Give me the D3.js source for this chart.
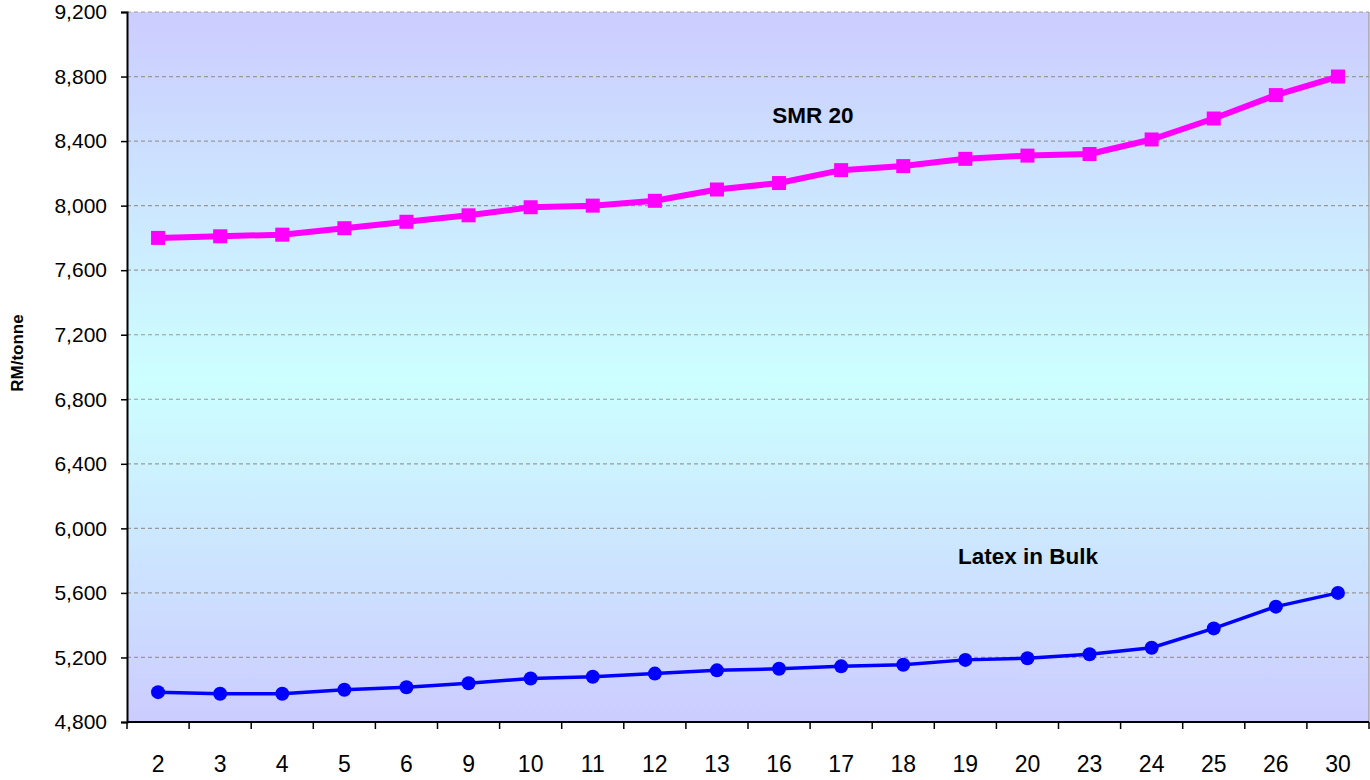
<!DOCTYPE html>
<html>
<head>
<meta charset="utf-8">
<script src="https://cdn.jsdelivr.net/npm/d3@7"></script>
<style>
  html, body { margin: 0; padding: 0; background: #ffffff; }
  svg { display: block; font-family: "Liberation Sans", Arial, sans-serif; }
</style>
</head>
<body>
<svg id="chart" width="1370" height="780"></svg>
<script>
// Daily prices (RM/tonne) by day of month
const days = ["2", "3", "4", "5", "6", "9", "10", "11", "12", "13", "16", "17", "18", "19", "20", "23", "24", "25", "26", "30"];
const smr20 = [7800, 7810, 7820, 7860, 7900, 7940, 7990, 8000, 8030, 8100, 8140, 8220, 8245, 8290, 8310, 8320, 8410, 8540, 8685, 8800];
const latexBulk = [4985, 4975, 4975, 5000, 5015, 5040, 5070, 5080, 5100, 5120, 5130, 5145, 5155, 5185, 5195, 5220, 5260, 5380, 5515, 5600];
const yTicks = [4800, 5200, 5600, 6000, 6400, 6800, 7200, 7600, 8000, 8400, 8800, 9200];

const svg = d3.select("#chart");
const margin = { left: 127, top: 12, right: 1, bottom: 58 };
const W = 1370, H = 780;
const innerW = W - margin.left - margin.right;
const innerH = H - margin.top - margin.bottom;

const x = d3.scaleBand().domain(days).range([0, innerW]).padding(0);
const y = d3.scaleLinear().domain([4800, 9200]).range([innerH, 0]);

// Background gradient
const defs = svg.append("defs");
const grad = defs.append("linearGradient")
  .attr("id", "bg").attr("x1", 0).attr("y1", 0).attr("x2", 0).attr("y2", 1);
grad.append("stop").attr("offset", "0%").attr("stop-color", "#ccccff");
grad.append("stop").attr("offset", "52%").attr("stop-color", "#ccffff");
grad.append("stop").attr("offset", "100%").attr("stop-color", "#ccccff");

const g = svg.append("g").attr("transform", `translate(${margin.left},${margin.top})`);

g.append("rect")
  .attr("width", innerW).attr("height", innerH)
  .attr("fill", "url(#bg)");

// Gridlines
g.append("g").selectAll("line")
  .data(yTicks.filter(d => d !== 4800))
  .join("line")
  .attr("x1", 0).attr("x2", innerW)
  .attr("y1", d => y(d)).attr("y2", d => y(d))
  .attr("stroke", "#999999").attr("stroke-width", 1.2)
  .attr("stroke-dasharray", "4,3");

// Right border
g.append("line")
  .attr("x1", innerW).attr("x2", innerW).attr("y1", 0).attr("y2", innerH)
  .attr("stroke", "#999999").attr("stroke-width", 1.2);

// Y axis
const yAxis = g.append("g")
  .call(d3.axisLeft(y).tickValues(yTicks).tickFormat(d3.format(",")).tickSize(6).tickPadding(14));
yAxis.select(".domain").attr("stroke", "#000").attr("stroke-width", 2);
yAxis.selectAll(".tick line").attr("stroke", "#000").attr("stroke-width", 1.5);
yAxis.selectAll(".tick text")
  .attr("font-size", 21).attr("fill", "#000")
  .attr("font-family", "Liberation Sans, Arial, sans-serif");

// X axis with ticks on band boundaries
const xAxisG = g.append("g").attr("transform", `translate(0,${innerH})`);
xAxisG.append("line")
  .attr("x1", 0).attr("x2", innerW).attr("y1", 0).attr("y2", 0)
  .attr("stroke", "#000").attr("stroke-width", 2);
const bounds = days.map(d => x(d)).concat([innerW]);
xAxisG.selectAll("line.tk")
  .data(bounds)
  .join("line").attr("class", "tk")
  .attr("x1", d => d).attr("x2", d => d)
  .attr("y1", 0).attr("y2", 7)
  .attr("stroke", "#000").attr("stroke-width", 1.5);
xAxisG.selectAll("text")
  .data(days)
  .join("text")
  .attr("x", d => x(d) + x.bandwidth() / 2)
  .attr("y", 50)
  .attr("text-anchor", "middle")
  .attr("font-size", 23)
  .attr("fill", "#000")
  .text(d => d);

// Y axis title
svg.append("text")
  .attr("transform", `translate(23,353) rotate(-90)`)
  .attr("text-anchor", "middle")
  .attr("font-size", 17).attr("font-weight", "bold")
  .attr("fill", "#000")
  .text("RM/tonne");

const cx = d => x(d) + x.bandwidth() / 2;

// SMR 20 series
const line = d3.line().x(d => cx(d[0])).y(d => y(d[1]));
const smrData = days.map((d, i) => [d, smr20[i]]);
g.append("path")
  .datum(smrData)
  .attr("d", line)
  .attr("fill", "none").attr("stroke", "#ff00ff").attr("stroke-width", 6)
  .attr("stroke-linejoin", "round");
g.selectAll("rect.smr")
  .data(smrData)
  .join("rect").attr("class", "smr")
  .attr("x", d => cx(d[0]) - 7).attr("y", d => y(d[1]) - 7)
  .attr("width", 14).attr("height", 14)
  .attr("fill", "#ff00ff");

// Latex in Bulk series
const latexData = days.map((d, i) => [d, latexBulk[i]]);
g.append("path")
  .datum(latexData)
  .attr("d", line)
  .attr("fill", "none").attr("stroke", "#0000ff").attr("stroke-width", 3.5)
  .attr("stroke-linejoin", "round");
g.selectAll("circle.latex")
  .data(latexData)
  .join("circle").attr("class", "latex")
  .attr("cx", d => cx(d[0])).attr("cy", d => y(d[1]))
  .attr("r", 7)
  .attr("fill", "#0000ff");

// Series labels
svg.append("text")
  .attr("x", 813).attr("y", 123)
  .attr("text-anchor", "middle")
  .attr("font-size", 22.5).attr("font-weight", "bold").attr("fill", "#000")
  .text("SMR 20");
svg.append("text")
  .attr("x", 1028).attr("y", 564)
  .attr("text-anchor", "middle")
  .attr("font-size", 22.5).attr("font-weight", "bold").attr("fill", "#000")
  .text("Latex in Bulk");
</script>
</body>
</html>
